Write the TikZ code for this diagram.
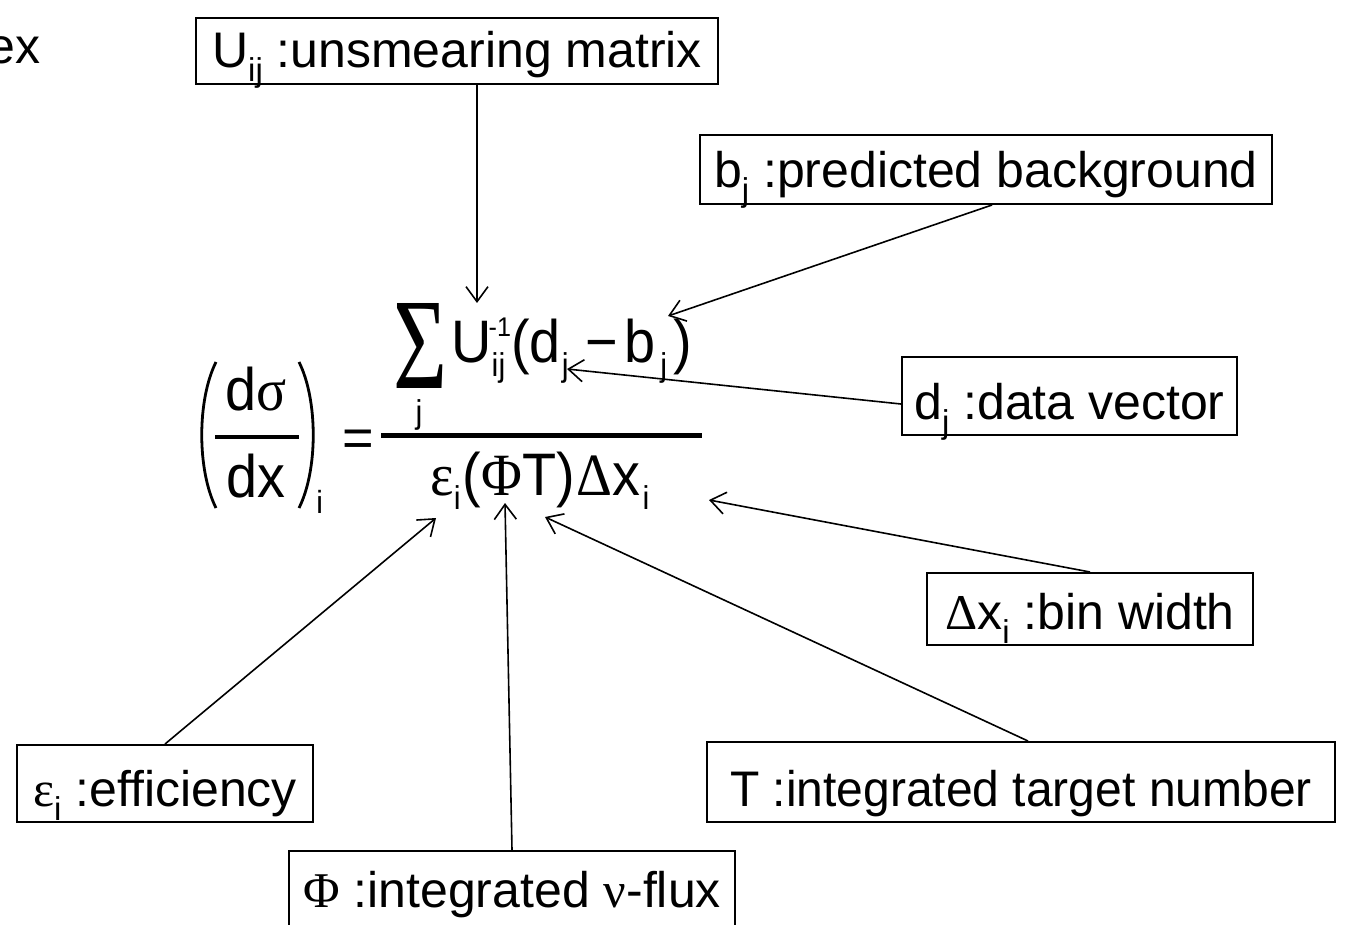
\documentclass[tikz,border=0pt]{standalone}
\usepackage{fontspec}
\setmainfont{Liberation Sans}
\newfontfamily\gr{Liberation Serif}
\newfontfamily\fs[FakeStretch=0.93]{Liberation Sans}
\newfontfamily\fsg[FakeStretch=0.93]{Liberation Serif}
\usepackage{graphicx}
\usetikzlibrary{arrows.meta}
\newcommand\sbs[1]{\raisebox{-7pt}{\fontsize{16.5}{17}\selectfont #1}}
\newcommand\fsb[1]{\raisebox{-7pt}{\fs\fontsize{16.5}{17}\selectfont #1}}
\newcommand\fsp[1]{\raisebox{13pt}{\fs\fontsize{13.5}{14}\selectfont #1}}
\begin{document}
\begin{tikzpicture}[x=0.5pt,y=-0.5pt,
  lbl/.style={draw, line width=1pt, inner sep=0pt, text depth=8pt, font=\fontsize{25}{30}\selectfont},
  txt/.style={inner sep=0pt, font=\fontsize{25}{30}\selectfont},
  fml/.style={inner sep=0pt, font=\fs\fontsize{30}{34}\selectfont},
  small/.style={inner sep=0pt, font=\fs\fontsize{16.5}{17}\selectfont},
  arr/.style={line width=0.8pt, -{Straight Barb[length=7.5pt,width=11pt]}},
  paren/.style={line width=1.4pt}
]
\path[use as bounding box] (0,0) rectangle (1349,925);
\clip (0,0) rectangle (1349,925);
% label boxes
\node[lbl, minimum width=261pt, text height=25pt] (Ubox) at (457,51) {U\sbs{ij} :unsmearing matrix};
\node[lbl, minimum width=286pt, text height=26.5pt] (bbox) at (986,169.5) {b\sbs{j} :predicted background};
\node[lbl, minimum width=167.5pt, text height=31pt] (dbox) at (1069.5,396) {d\sbs{j} :data vector};
\node[lbl, minimum width=163pt, text height=28pt] (xbox) at (1090,609) {{\gr Δ}x\sbs{i} :bin width};
\node[lbl, minimum width=148pt, text height=30.5pt] (ebox) at (165,783.5) {{\gr ε}\sbs{i} :efficiency};
\node[lbl, minimum width=314pt, text height=32pt] (Tbox) at (1021,782) {\scalebox{0.96}[1]{T :integrated target number}};
\node[lbl, minimum width=223pt, text height=28pt, text depth=12pt] (pbox) at (512,891) {{\gr Φ} :integrated {\gr ν}-flux};
\node[txt, anchor=base east] (ex) at (41,64) {ex};
% formula: left side
\draw[paren] (216,362) .. controls (197,400) and (197,470) .. (216,508);
\draw[paren] (299,362) .. controls (318,400) and (318,470) .. (299,508);
\node[fml, anchor=base] (dsig) at (256,410) {d{\fsg σ}};
\fill (215,435) rectangle (299,439);
\node[fml, anchor=base] (dxx) at (256,497) {dx};
\node[small, font=\fs\fontsize{16}{17}\selectfont, anchor=base west] (isub) at (316,513) {i};
\node[inner sep=0pt, font=\fontsize{27}{30}\selectfont, anchor=base] (eq) at (358,456) {=};
% main fraction
\fill (381,432.5) rectangle (702,437.5);
\node[inner sep=0pt, anchor=base] (sig) at (420,388) {\resizebox{27pt}{42.5pt}{\gr Σ}};
\node[small, anchor=base] (jj) at (419,423) {j};
\node[fml, anchor=base west] (num) at (451,362) {U\rlap{\hspace{-1.5pt}\fsp{-1}}\fsb{ij}\hspace{3pt}(d\hspace{0.5pt}\fsb{j}\hspace{8.5pt}−\hspace{3pt}b\hspace{2.5pt}\fsb{j}\hspace{3pt})};
\node[fml, anchor=base] (den) at (540,495) {{\fsg ε}\fsb{i}\hspace{1pt}({\fsg Φ}T)\hspace{1pt}{\fsg Δ}x\hspace{1pt}\fsb{i}};
% arrows
\coordinate (tU) at (477,303);
\coordinate (tb) at (668,316);
\coordinate (td) at (567,369);
\coordinate (tx) at (709,500);
\coordinate (te) at (436,518);
\coordinate (tT) at (545,517);
\coordinate (tp) at (505,503);
\draw[arr] (Ubox.south -| tU) -- (tU);
\draw[arr] ([xshift=3pt]bbox.south) -- (tb);
\draw[arr] ([yshift=-4pt]dbox.west) -- (td);
\draw[arr] (xbox.north) -- (tx);
\draw[arr] (ebox.north) -- (te);
\draw[arr] ([xshift=3.5pt]Tbox.north) -- (tT);
\draw[arr] (pbox.north) -- (tp);
\end{tikzpicture}
\end{document}
